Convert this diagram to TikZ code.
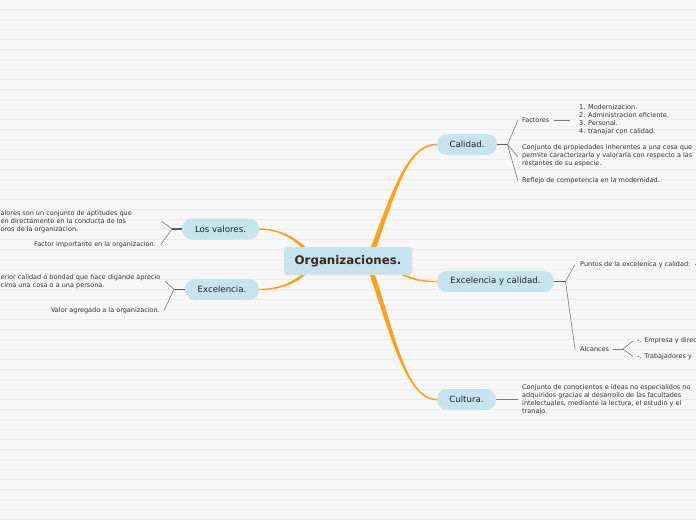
\documentclass[tikz,border=0pt]{standalone}
\usepackage{fontspec}
\setmainfont{DejaVu Sans}
\usetikzlibrary{calc,backgrounds}

\definecolor{bg}{RGB}{247,247,247}
\definecolor{rulecol}{RGB}{237,237,237}
\definecolor{nodeblue}{RGB}{198,228,239}
\definecolor{orangeA}{RGB}{255,160,26}
\definecolor{txt}{RGB}{51,51,51}
\definecolor{txtB}{RGB}{34,34,34}
\definecolor{titlecol}{RGB}{58,42,30}
\definecolor{stubcol}{RGB}{90,90,90}
\definecolor{fancol}{RGB}{125,125,125}

% tapered branch: A C1 C2 B halfwidth-start halfwidth-end
\newcommand{\taperbranch}[6]{%
 \fill[orangeA] ($(#1)!#5!90:(#2)$) .. controls ($(#2)!#5!-90:(#1)$) and ($(#3)!#6!90:(#4)$) .. ($(#4)!#6!-90:(#3)$)
   -- ($(#4)!#6!90:(#3)$) .. controls ($(#3)!#6!-90:(#4)$) and ($(#2)!#5!90:(#1)$) .. ($(#1)!#5!-90:(#2)$) -- cycle;}

\tikzset{
 topic/.style={fill=nodeblue, rounded corners=10pt, minimum height=21pt, inner sep=0pt,
   font=\fontsize{8.6}{10}\selectfont, text=txtB},
 centralbox/.style={fill=nodeblue, rounded corners=3pt, minimum width=128pt, minimum height=28pt,
   inner sep=0pt, font=\bfseries\fontsize{11.8}{13}\selectfont, text=titlecol},
 leaf/.style={font=\fontsize{6.5}{8}\selectfont, text=txt, inner sep=0pt, align=left},
 stubline/.style={draw=stubcol, line width=1.1pt},
 fanline/.style={draw=fancol, line width=0.6pt},
}

\begin{document}
\begin{tikzpicture}[x=1pt,y=-1pt]
\useasboundingbox (0,0) rectangle (696,520);
\clip (0,0) rectangle (696,520);

% main nodes
\node[centralbox] (org) at (348,261) {Organizaciones.};
\node[topic, minimum width=60pt] (cal) at (467,144.5) {Calidad.};
\node[topic, minimum width=77pt] (val) at (220.5,229) {Los valores.};
\node[topic, minimum width=74pt] (exc) at (222,289.5) {Excelencia.};
\node[topic, minimum width=117pt] (eyc) at (495.5,281.5) {Excelencia y calidad.};
\node[topic, minimum width=59pt] (cul) at (466.5,399.5) {Cultura.};

% Calidad children
\node[leaf, anchor=west] (fac) at (522,120) {Factores};
\node[leaf, anchor=west] (faclist) at (579,120) {1. Modernizacion.\\2. Administracion eficiente.\\3. Personal.\\4. tranajar con calidad.};
\node[leaf, anchor=west] (conj) at (522,156) {Conjunto de propiedades inherentes a una cosa que\\permite caracterizarla y valorarla con respecto a las\\restantes de su especie.};
\node[leaf, anchor=west] (refl) at (522,181) {Reflejo de competencia en la modernidad.};

% Los valores children
\node[leaf, anchor=west] (valtxt) at (0.5,221.7) {alores son un conjunto de aptitudes que\\en directamente en la conducta de los\\oros de la organizacion.};
\node[leaf, anchor=east] (valfac) at (156,245) {Factor importante en la organizacion.};

% Excelencia children
\node[leaf, anchor=west] (exctxt) at (0.5,282) {erior calidad o bondad que hace digande aprecio\\cima una cosa o a una persona.};
\node[leaf, anchor=east] (excval) at (160,310.5) {Valor agregado a la organizacion.};

% Excelencia y calidad children
\node[leaf, anchor=west] (pts) at (580,264.5) {Puntos de la excelenica y calidad:};
\node[leaf, anchor=west] (alc) at (580,349) {Alcances};
\node[leaf, anchor=west] (emp) at (637,341) {-. Empresa y direc};
\node[leaf, anchor=west] (trab) at (637,356.5) {-. Trabajadores y};

% Cultura child
\node[leaf, anchor=west] (culttxt) at (522,399.5) {Conjunto de conocientos e ideas no especialidos no\\adquiridos gracias al desarrollo de las facultades\\intelectuales, mediante la lectura, el estudio y el\\tranajo.};

% coordinates
\coordinate (calS) at (368,262); \coordinate (calC1) at (392,200); \coordinate (calC2) at (405,144.5);
\coordinate (culS) at (368,262); \coordinate (culC1) at (392,330); \coordinate (culC2) at (405,399.5);
\coordinate (eycS) at (385,265); \coordinate (eycC1) at (410,280); \coordinate (eycC2) at (420,281.5);
\coordinate (valS) at (313,257); \coordinate (valC1) at (298,239); \coordinate (valC2) at (280,229);
\coordinate (excS) at (313,265); \coordinate (excC1) at (298,283); \coordinate (excC2) at (280,289.5);

\coordinate (calfan) at (507.5,144.5);
\coordinate (valfan) at (172,229);
\coordinate (excfan) at (174,289.5);
\coordinate (eycfan) at (565.5,281.5);
\coordinate (alcfan) at (623,349);
\coordinate (culend) at (518,399.5);
\coordinate (valt1) at (161.5,221);
\coordinate (valt2) at (160.5,245);
\coordinate (exct1) at (165,281);
\coordinate (exct2) at (164,310.5);
\coordinate (facL) at (554,120);
\coordinate (facR) at (570,120);
\coordinate (alcL) at (613,349);

\begin{pgfonlayer}{background}
 \fill[bg] (0,0) rectangle (696,520);
 \foreach \yy in {9.5,19.5,...,519.5} \draw[rulecol, line width=0.7pt] (0,\yy) -- (696,\yy);

 % orange branches
 \taperbranch{calS}{calC1}{calC2}{cal.west}{2.5pt}{0.8pt}
 \taperbranch{culS}{culC1}{culC2}{cul.west}{2.5pt}{0.8pt}
 \taperbranch{eycS}{eycC1}{eycC2}{eyc.west}{1.1pt}{0.65pt}
 \taperbranch{valS}{valC1}{valC2}{val.east}{1.6pt}{0.7pt}
 \taperbranch{excS}{excC1}{excC2}{exc.east}{1.6pt}{0.7pt}

 % Calidad
 \draw[stubline] (cal.east) -- (calfan);
 \draw[fanline] (calfan) -- ([xshift=-4pt]fac.west);
 \draw[fanline] (calfan) -- ([xshift=-4pt,yshift=-1pt]conj.west);
 \draw[fanline] (calfan) -- ([xshift=-4pt]refl.west);
 \draw[fanline, line width=0.8pt] (facL) -- (facR);

 % Los valores
 \draw[stubline] (val.west) -- (valfan);
 \draw[fanline] (valfan) -- (valt1);
 \draw[fanline] (valfan) -- (valt2);

 % Excelencia
 \draw[stubline] (exc.west) -- (excfan);
 \draw[fanline] (excfan) -- (exct1);
 \draw[fanline] (excfan) -- (exct2);

 % Excelencia y calidad
 \draw[stubline] (eyc.east) -- (eycfan);
 \draw[fanline] (eycfan) -- ([xshift=-5pt]pts.west);
 \draw[fanline] (eycfan) -- ([xshift=-5pt]alc.west);
 \draw[fanline, line width=0.9pt] ([xshift=4pt]pts.east) -- ([xshift=20pt]pts.east);
 \draw[fanline, line width=0.8pt] (alcL) -- (alcfan);
 \draw[fanline] (alcfan) -- ([xshift=-4pt]emp.west);
 \draw[fanline] (alcfan) -- ([xshift=-4pt]trab.west);

 % Cultura
 \draw[fanline, line width=0.8pt] (cul.east) -- (culend);
\end{pgfonlayer}
\end{tikzpicture}
\end{document}
